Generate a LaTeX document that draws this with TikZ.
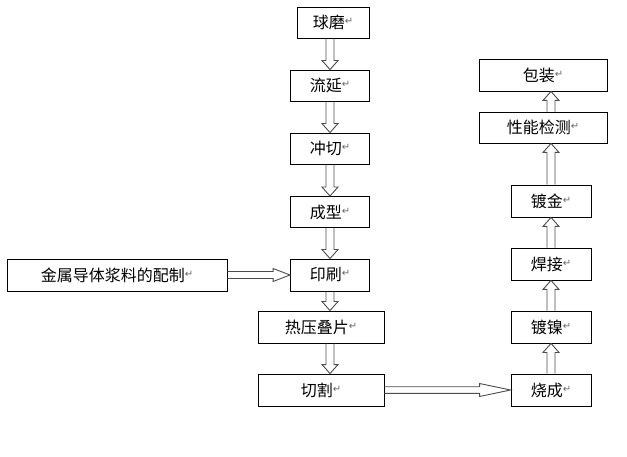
\documentclass[tikz,border=0pt]{standalone}
\usepackage{fontspec}
\setmainfont{Noto Sans CJK SC}
\newfontfamily\symfont{DejaVu Sans}
\usetikzlibrary{calc}
\definecolor{arrowgray}{gray}{0.3}
\newcommand\pmark{{\symfont\fontsize{10}{10}\selectfont\raisebox{4pt}{\textcolor{black!60}{↵}}}}
\tikzset{
  box/.style={draw, line width=0.9pt, inner sep=0pt, minimum height=31pt,
    font=\fontsize{16}{18}\selectfont},
  barrow/.style n args={3}{draw=arrowgray, line width=0.9pt, line join=miter,
    to path={let \p1=(\tikztostart), \p2=(\tikztotarget),
      \n1={atan2(\y2-\y1,\x2-\x1)} in
      ($(\p1)+(\n1+90:#1)$) -- ($(\p2)+(\n1+180:#3)+(\n1+90:#1)$)
      -- ($(\p2)+(\n1+180:#3)+(\n1+90:#2)$) -- (\p2)
      -- ($(\p2)+(\n1+180:#3)+(\n1-90:#2)$) -- ($(\p2)+(\n1+180:#3)+(\n1-90:#1)$)
      -- ($(\p1)+(\n1-90:#1)$)}},
  varrow/.style={barrow={4pt}{8pt}{9pt}},
}
\begin{document}
\begin{tikzpicture}[x=1pt,y=-1pt]
\useasboundingbox (0,0) rectangle (627,457);
% centre column
\node[box, minimum width=72pt] (qiumo) at (333,22.5) {球磨\pmark};
\node[box, minimum width=79pt] (liuyan) at (330,85.5) {流延\pmark};
\node[box, minimum width=79pt] (chongqie) at (330,148.5) {冲切\pmark};
\node[box, minimum width=79pt] (chengxing) at (330,212) {成型\pmark};
\node[box, minimum width=79pt, minimum height=32pt] (yinshua) at (330,275) {印刷\pmark};
\node[box, minimum width=126pt, minimum height=32pt] (reya) at (321,327) {热压叠片\pmark};
\node[box, minimum width=126pt, minimum height=32pt] (qiege) at (321,390) {切割\pmark};
% left
\node[box, minimum width=220pt, minimum height=32pt] (jinshu) at (117,275) {金属导体浆料的配制\pmark};
% right column
\node[box, minimum width=80pt, minimum height=32pt] (shaocheng) at (551,390) {烧成\pmark};
\node[box, minimum width=80pt, minimum height=32pt] (duonie) at (551,327) {镀镍\pmark};
\node[box, minimum width=80pt, minimum height=32pt] (hanjie) at (551,264) {焊接\pmark};
\node[box, minimum width=80pt, minimum height=32pt] (dujin) at (551,201) {镀金\pmark};
\node[box, minimum width=128pt] (xingneng) at (543,127.5) {性能检测\pmark};
\node[box, minimum width=128pt, minimum height=32pt] (baozhuang) at (543,75) {包装\pmark};
% arrows centre column
\draw[varrow] (qiumo.south -| liuyan.north) to (liuyan.north);
\draw[varrow] (liuyan.south) to (chongqie.north);
\draw[varrow] (chongqie.south) to (chengxing.north);
\draw[varrow] (chengxing.south) to (yinshua.north);
\draw[varrow] (yinshua.south) to (reya.north -| yinshua.south);
\draw[varrow] (reya.south -| yinshua.south) to (qiege.north -| yinshua.south);
% horizontal arrows
\draw[barrow={3.5pt}{6.5pt}{17pt}] (jinshu.east) to (yinshua.west);
\draw[barrow={3.3pt}{6.5pt}{31pt}] (qiege.east) to (shaocheng.west);
% right column arrows
\draw[varrow] (shaocheng.north) to (duonie.south);
\draw[varrow] (duonie.north) to (hanjie.south);
\draw[varrow] (hanjie.north) to (dujin.south);
\draw[varrow] (dujin.north) to (xingneng.south -| dujin.north);
\draw[varrow] (xingneng.north -| dujin.north) to (baozhuang.south -| dujin.north);
\end{tikzpicture}
\end{document}
